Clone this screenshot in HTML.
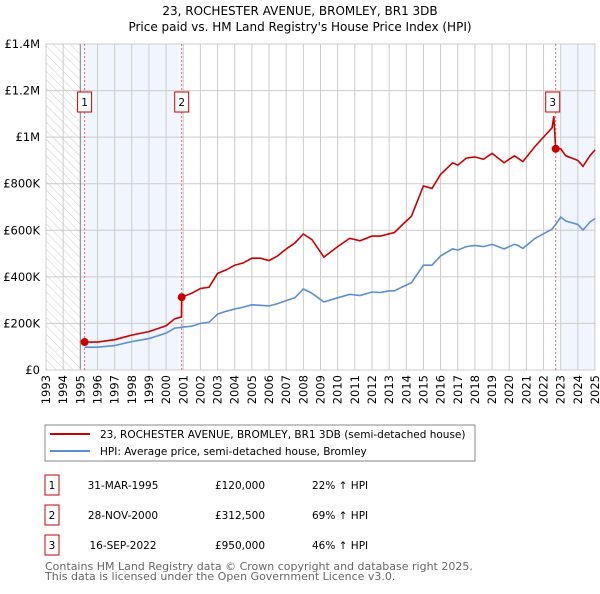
<!DOCTYPE html>
<html><head><meta charset="utf-8"><style>
body{margin:0;background:#fff;font-family:"DejaVu Sans","Liberation Sans",sans-serif;}
svg text{font-family:"DejaVu Sans","Liberation Sans",sans-serif;}
</style></head><body>
<svg id="c" width="600" height="590" viewBox="0 0 600 590" xmlns="http://www.w3.org/2000/svg">
<defs><pattern id="hatch" width="6" height="6" patternUnits="userSpaceOnUse" patternTransform="rotate(-45)"><line x1="0" y1="0" x2="0" y2="6" stroke="#ccc" stroke-width="1"/></pattern></defs>
<text x="300" y="15" text-anchor="middle" font-size="12">23, ROCHESTER AVENUE, BROMLEY, BR1 3DB</text>
<text x="300" y="31" text-anchor="middle" font-size="12">Price paid vs. HM Land Registry's House Price Index (HPI)</text>
<g id="plot"></g>
<rect x="45" y="425" width="430" height="36" fill="#fff" stroke="#888"/>
<line x1="50" y1="434" x2="90" y2="434" stroke="#cc0000" stroke-width="2"/>
<text x="100" y="438" font-size="10.5">23, ROCHESTER AVENUE, BROMLEY, BR1 3DB (semi-detached house)</text>
<line x1="50" y1="451" x2="90" y2="451" stroke="#5b8fd4" stroke-width="2"/>
<text x="100" y="455" font-size="10.5">HPI: Average price, semi-detached house, Bromley</text>
<g id="tbl" font-size="10.5"></g>
<text x="45" y="570" font-size="11" fill="#666">Contains HM Land Registry data © Crown copyright and database right 2025.</text>
<text x="45" y="580" font-size="11" fill="#666">This data is licensed under the Open Government Licence v3.0.</text>
</svg>
<script>
const years=[1995.25,1996,1997,1998,1999,2000,2000.5,2000.9,2000.91,2001.5,2002,2002.5,2003,2003.5,2004,2004.5,2005,2005.5,2006,2006.5,2007,2007.5,2008,2008.5,2009.2,2010,2010.7,2011.3,2012,2012.5,2013,2013.3,2014,2014.3,2015,2015.5,2016,2016.7,2017,2017.5,2018,2018.5,2019,2019.7,2020.3,2020.5,2020.8,2021.5,2022,2022.5,2022.6,2022.71,2023,2023.3,2024,2024.3,2024.7,2025];
const propertyValues=[120,120,130,150,165,190,220,228,312.5,330,350,355,415,430,450,460,480,480,470,490,520,545,584,560,485,530,565,555,575,575,585,590,640,660,790,780,840,890,880,910,915,905,930,890,920,910,895,960,1000,1040,1090,950,950,920,900,875,920,945];
const hpiValues=[98,98,105,122,135,158,180,183,184,188,200,205,240,252,262,270,280,278,275,285,298,310,348,330,292,310,325,320,335,333,340,340,365,375,450,450,490,520,515,530,535,530,540,520,540,535,522,565,585,605,615,625,657,640,625,601,635,650];
const saleYears=[1995.25,2000.91,2022.71];
const salePrices=[120,312.5,950];
const saleLabels=["1","2","3"];
const saleDates=["31-MAR-1995","28-NOV-2000","16-SEP-2022"];
const salePriceText=["£120,000","£312,500","£950,000"];
const saleHpi=["22% ↑ HPI","69% ↑ HPI","46% ↑ HPI"];
const yTicks=[0,200,400,600,800,1000,1200,1400];
const yTickLabels=["£0","£200K","£400K","£600K","£800K","£1M","£1.2M","£1.4M"];
const xTicks=[];for(let y=1993;y<=2025;y++)xTicks.push(y);

const X0=46,X1=595,Y0=370,Y1=44;
const xs=y=>X0+(y-1993)/(2025-1993)*(X1-X0);
const ys=v=>Y0-v/1400*(Y0-Y1);
const NS="http://www.w3.org/2000/svg";
const g=document.getElementById('plot');
function mk(t,a,p){const e=document.createElementNS(NS,t);for(const k in a)e.setAttribute(k,a[k]);(p||g).appendChild(e);return e;}
let e;
e=mk('rect',{x:xs(1993),y:Y1,width:xs(1995)-xs(1993),height:Y0-Y1,fill:'url(#hatch)'});


e=mk('rect',{x:xs(1995),y:Y1,width:xs(saleYears[1])-xs(1995),height:Y0-Y1,fill:'#eef3fc',opacity:0.8});


e=mk('rect',{x:xs(2023),y:Y1,width:xs(2025)-xs(2023),height:Y0-Y1,fill:'#eef3fc',opacity:0.8});


xTicks.forEach(y=>{
 e=mk('line',{x1:xs(y),x2:xs(y),y1:Y1,y2:Y0,stroke:'#ccc','stroke-width':1});
 
 
 e=mk('text',{x:0,y:0,'font-size':11.5,'text-anchor':'end',transform:`translate(${xs(y)+4},${Y0+5}) rotate(-90)`});
 e.textContent=y;
 
 
});
yTicks.forEach((v,i)=>{
 e=mk('line',{x1:X0,x2:X1,y1:ys(v),y2:ys(v),stroke:'#ccc','stroke-width':1});
 
 
 e=mk('text',{x:40,y:ys(v)+4,'font-size':11.5,'text-anchor':'end'});
 e.textContent=yTickLabels[i];
 
 
});
e=mk('line',{x1:xs(1995),x2:xs(1995),y1:Y1,y2:Y0,stroke:'#888','stroke-width':1});


e=mk('rect',{x:X0,y:Y1,width:X1-X0,height:Y0-Y1,fill:'none',stroke:'#ccc'});


saleYears.forEach((y,i)=>{
 e=mk('line',{x1:xs(y),x2:xs(y),y1:Y1,y2:Y0,stroke:'#e66','stroke-width':1,'stroke-dasharray':'2,2'});
 
 
});
const path=vals=>vals.map((v,i)=>(i?'L':'M')+xs(years[i]).toFixed(1)+','+ys(v).toFixed(1)).join('');
e=mk('path',{d:path(hpiValues),fill:'none',stroke:'#5b8fd4','stroke-width':1.6});


e=mk('path',{d:path(propertyValues),fill:'none',stroke:'#cc0000','stroke-width':1.6});


saleYears.forEach((y,i)=>{
 e=mk('circle',{cx:xs(y),cy:ys(salePrices[i]),r:4,fill:'#cc0000'});
 
 
 const bx=xs(y)-(i==0?7:(i==1?7:10));
 e=mk('rect',{x:bx,y:92,width:14,height:20,fill:'#fff',stroke:'#cc0000'});
 
 
 e=mk('text',{x:bx+7,y:106,'font-size':10.5,'text-anchor':'middle'});
 e.textContent=saleLabels[i];
 
 
});
const t=document.getElementById('tbl');
saleLabels.forEach((l,i)=>{
 const ry=475+i*30;
 e=mk('rect',{x:45,y:ry,width:14,height:20,fill:'#fff',stroke:'#cc0000'},t);
 
 
 e=mk('text',{x:52,y:ry+14,'text-anchor':'middle'},t);e.textContent=l;
 
 
 e=mk('text',{x:123,y:ry+14,'text-anchor':'middle'},t);e.textContent=saleDates[i];
 
 
 e=mk('text',{x:240,y:ry+14,'text-anchor':'middle'},t);e.textContent=salePriceText[i];
 
 
 e=mk('text',{x:312,y:ry+14},t);e.textContent=saleHpi[i];
 
 
});
</script>
</body></html>
